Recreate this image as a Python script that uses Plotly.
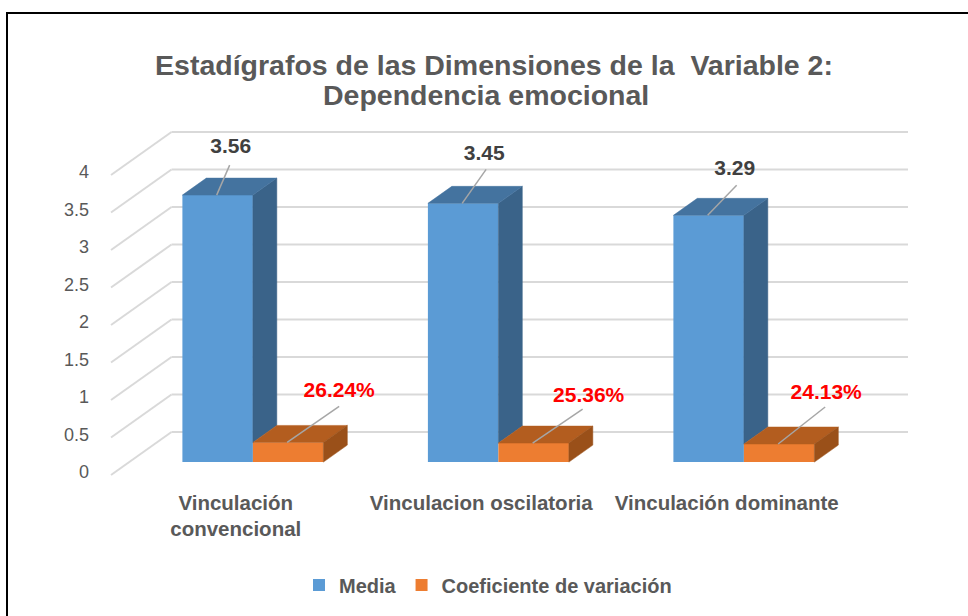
import plotly.graph_objects as go

# ---- data ----
categories = ["Vinculación<br>convencional", "Vinculacion oscilatoria", "Vinculación dominante"]
media = [3.56, 3.45, 3.29]
coef_var = [26.24, 25.36, 24.13]   # percent
y_ticks = [0, 0.5, 1, 1.5, 2, 2.5, 3, 3.5, 4]
y_tick_text = ["0", "0.5", "1", "1.5", "2", "2.5", "3", "3.5", "4"]
series_names = ["Media", "Coeficiente de variación"]
title_lines = ["Estadígrafos de las Dimensiones de la \u00a0Variable 2:", "Dependencia emocional"]

# ---- styling / projection ----
W, H = 968, 616
L, R, T, B = 97, 920, 125, 480            # plot rectangle in page pixels
X_PX = 245.5                               # pixels per category
Y_PX = 75.0                                # pixels per value unit
x_range = [(L - 111) / X_PX, (R - 111) / X_PX]
y_range = [(472 - B) / Y_PX, (472 - T) / Y_PX]
kx, ky = 60.5 / X_PX, 43 / Y_PX            # oblique depth projection
y0 = -3 / Y_PX                             # front floor offset
bar_w = 70.5 / X_PX
bar_shift = 1 / X_PX
d_front, d_back = 0.30, 0.30 + 17 / 43

GRID = "#d9d9d9"
TXT = "#595959"
BLUE, BLUE_TOP, BLUE_SIDE = "#5b9bd5", "#44739f", "#3a6389"
OR, OR_TOP, OR_SIDE = "#ed7d31", "#b35d1f", "#9a5019"
FONT = "Liberation Sans"


def P(x, v, d):
    return x + kx * d, v + y0 + ky * d


def poly(points, color):
    xs = [p[0] for p in points] + [points[0][0]]
    ys = [p[1] for p in points] + [points[0][1]]
    return go.Scatter(x=xs, y=ys, mode="lines", fill="toself", fillcolor=color,
                      line=dict(color=color, width=0.5), showlegend=False, hoverinfo="skip")


fig = go.Figure()
centers = [i + 0.5 for i in range(len(media))]
bar_centers = [c + bar_shift for c in centers]
pct = [c / 100 for c in coef_var]

front_base = P(0, 0, d_front)[1]
fx = kx * d_front
fig.add_trace(go.Bar(name=series_names[0], x=[c - bar_w / 2 + fx for c in bar_centers], y=media,
                     base=front_base, width=bar_w, marker=dict(color=BLUE, line_width=0)))
fig.add_trace(go.Bar(name=series_names[1], x=[c + bar_w / 2 + fx for c in bar_centers], y=pct,
                     base=front_base, width=bar_w, marker=dict(color=OR, line_width=0)))

for c, v, o in zip(bar_centers, media, pct):
    x1, x2, x3 = c - bar_w, c, c + bar_w
    # blue side: only the part above the orange bar is visible
    fig.add_trace(poly([P(x2, o, d_front), P(x2, v, d_front), P(x2, v, d_back), P(x2, o, d_back)], BLUE_SIDE))
    fig.add_trace(poly([P(x1, v, d_front), P(x2, v, d_front), P(x2, v, d_back), P(x1, v, d_back)], BLUE_TOP))
    fig.add_trace(poly([P(x2, o, d_front), P(x3, o, d_front), P(x3, o, d_back), P(x2, o, d_back)], OR_TOP))
    fig.add_trace(poly([P(x3, 0, d_front), P(x3, o, d_front), P(x3, o, d_back), P(x3, 0, d_back)], OR_SIDE))

# leader lines and value labels; offsets in pixels from the front top-centre of each bar
blue_leader = [(13, 30), (24, 34), (29, 30)]
blue_label = [(14, 47), (22, 49), (27, 46)]
or_leader = [(52, 36), (50, 34), (47, 37)]
or_label = [(52, 51), (56, 46), (48, 50)]
for vals, shift, lead, lab, fmt, col in [
    (media, -bar_w / 2, blue_leader, blue_label, "{:.2f}", "#404040"),
    (pct, bar_w / 2, or_leader, or_label, None, "#ff0000"),
]:
    for i, (c, v) in enumerate(zip(centers, vals)):
        bx, by = P(c + shift, v, d_front)
        fig.add_trace(go.Scatter(x=[bx, bx + lead[i][0] / X_PX], y=[by, by + lead[i][1] / Y_PX], mode="lines",
                                 line=dict(color="#a6a6a6", width=1.5), showlegend=False, hoverinfo="skip"))
        label = fmt.format(v) if fmt else f"{coef_var[i]:.2f}%"
        fig.add_trace(go.Scatter(x=[bx + lab[i][0] / X_PX], y=[by + lab[i][1] / Y_PX], mode="text", text=[label],
                                 textposition="middle center", showlegend=False, hoverinfo="skip",
                                 textfont=dict(family=FONT, size=21, color=col, weight="bold")))

# walls: gridlines behind the bars
shapes = []
n_cat = len(categories)
for t in y_ticks:
    xa, ya = P(0, t, 0)
    xb, yb = P(0, t, 1)
    xc, yc = P(n_cat, t, 1)
    for (p, q, r, s) in [(xa, ya, xb, yb), (xb, yb, xc, yc)]:
        shapes.append(dict(type="line", xref="x", yref="y", x0=p, y0=q, x1=r, y1=s, layer="below",
                           line=dict(color=GRID, width=2)))

# outer chart frame in page pixels: only top and left edges are inside the picture
px = lambda v: (v - L) / (R - L)
py = lambda v: 1 - (v - T) / (B - T)
FRAME = (7, 13, 1000, 660)
shapes.append(dict(type="rect", xref="paper", yref="paper", x0=px(FRAME[0]), x1=px(FRAME[2]),
                   y0=py(FRAME[1]), y1=py(FRAME[3]), line=dict(color="#000000", width=2), layer="below"))

title_font = dict(family=FONT, size=28.5, color=TXT, weight="bold")
fig.update_layout(
    width=W, height=H, margin=dict(l=L, r=W - R, t=T, b=H - B, pad=0),
    paper_bgcolor="white", plot_bgcolor="rgba(0,0,0,0)", barmode="overlay", shapes=shapes,
    font=dict(family=FONT, color=TXT),
    title=dict(text=title_lines[0], x=494 / W, xanchor="center", y=1 - 65 / H, yanchor="middle", font=title_font),
    annotations=[dict(text=title_lines[1], xref="paper", yref="paper", x=px(486), y=py(95), showarrow=False,
                      xanchor="center", yanchor="middle", font=title_font)],
    legend=dict(orientation="h", x=488 / W, xref="container", xanchor="center", yref="container", y=1 - 585 / H,
                yanchor="middle", font=dict(family=FONT, size=20, color=TXT, weight="bold"),
                itemwidth=30, traceorder="normal"),
    xaxis=dict(range=x_range, tickmode="array", tickvals=[c + 2 / X_PX for c in centers], ticktext=categories,
               showgrid=False, zeroline=False, showline=False, ticks="", ticklabelstandoff=8,
               tickfont=dict(family=FONT, size=20.5, color=TXT, weight="bold")),
    yaxis=dict(range=y_range, tickmode="array", tickvals=y_ticks, ticktext=y_tick_text, showgrid=False,
               zeroline=False, showline=False, ticks="", ticklabelstandoff=7,
               tickfont=dict(family=FONT, size=18, color=TXT)),
)
fig.write_html("out.html", config=dict(displayModeBar=False), post_script="document.body.style.margin='0';")
